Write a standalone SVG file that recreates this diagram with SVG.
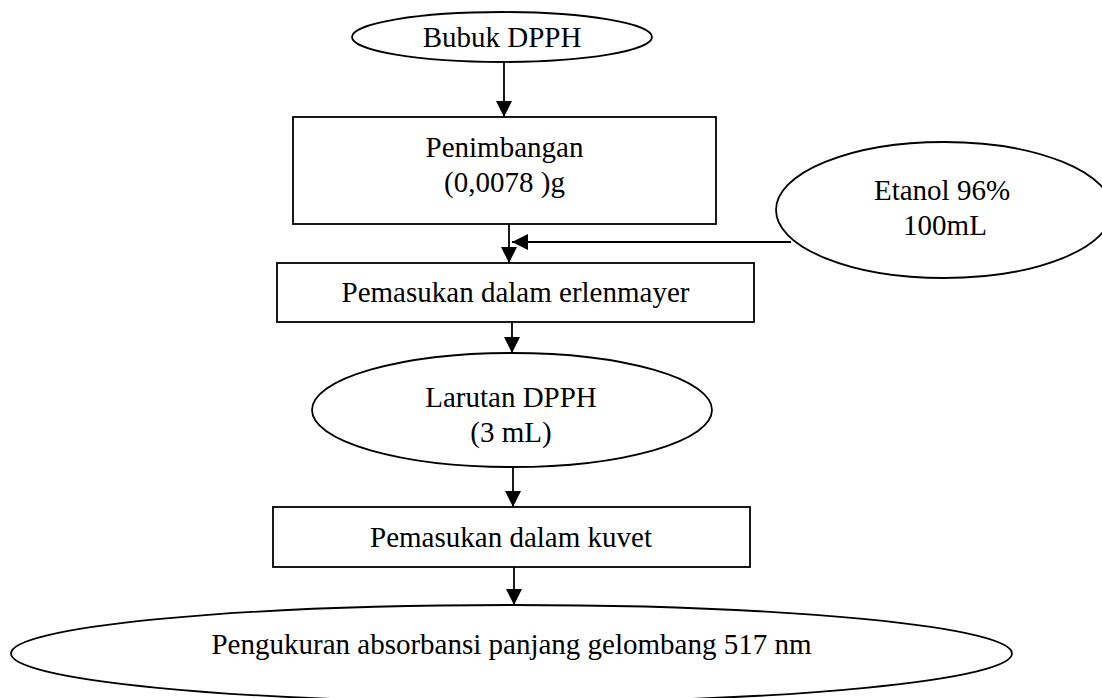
<svg xmlns="http://www.w3.org/2000/svg" width="1102" height="698" viewBox="0 0 1102 698">
<style>
.shape{fill:#fff;stroke:#000;stroke-width:1.8}
.t{font-family:"Liberation Serif","Times New Roman",serif;font-size:29px;fill:#000;text-anchor:middle}
.c{stroke:#000;stroke-width:1.8;fill:none}
</style>
<defs>
<marker id="arr" markerUnits="userSpaceOnUse" markerWidth="17" markerHeight="17" viewBox="0 0 17 16" refX="16" refY="8" orient="auto">
<path d="M0,0 L16,8 L0,16 z" fill="#000"/>
</marker>
</defs>
<rect width="1102" height="698" fill="#fff"/>
<g id="bubuk">
<ellipse class="shape" cx="502" cy="37" rx="150" ry="25"/>
<text class="t" x="502" y="47">Bubuk DPPH</text>
</g>
<g id="penimbangan">
<rect class="shape" x="293" y="117" width="423" height="107"/>
<text class="t" x="504.5" y="157">Penimbangan</text>
<text class="t" x="504.5" y="192">(0,0078 )g</text>
</g>
<g id="etanol">
<ellipse class="shape" cx="944" cy="210" rx="168" ry="68"/>
<text class="t" x="942" y="200">Etanol 96%</text>
<text class="t" x="945" y="235">100mL</text>
</g>
<g id="erlenmayer">
<rect class="shape" x="277" y="263" width="477" height="59"/>
<text class="t" x="515.5" y="302">Pemasukan dalam erlenmayer</text>
</g>
<g id="larutan">
<ellipse class="shape" cx="512" cy="410" rx="200" ry="57"/>
<text class="t" x="511" y="407">Larutan DPPH</text>
<text class="t" x="511" y="442">(3 mL)</text>
</g>
<g id="kuvet">
<rect class="shape" x="273" y="507" width="477" height="60"/>
<text class="t" x="511" y="547">Pemasukan dalam kuvet</text>
</g>
<g id="pengukuran">
<ellipse class="shape" cx="511.5" cy="653.5" rx="500.5" ry="48.5"/>
<text class="t" x="511.5" y="654">Pengukuran absorbansi panjang gelombang 517 nm</text>
</g>
<g id="connectors">
<line class="c" x1="504" y1="62" x2="504" y2="117" marker-end="url(#arr)"/>
<line class="c" x1="509" y1="224" x2="509" y2="263" marker-end="url(#arr)"/>
<line class="c" x1="791" y1="242" x2="512" y2="242" marker-end="url(#arr)"/>
<line class="c" x1="512" y1="322" x2="512" y2="353" marker-end="url(#arr)"/>
<line class="c" x1="513" y1="467" x2="513" y2="507" marker-end="url(#arr)"/>
<line class="c" x1="514" y1="567" x2="514" y2="605" marker-end="url(#arr)"/>
</g>
</svg>
